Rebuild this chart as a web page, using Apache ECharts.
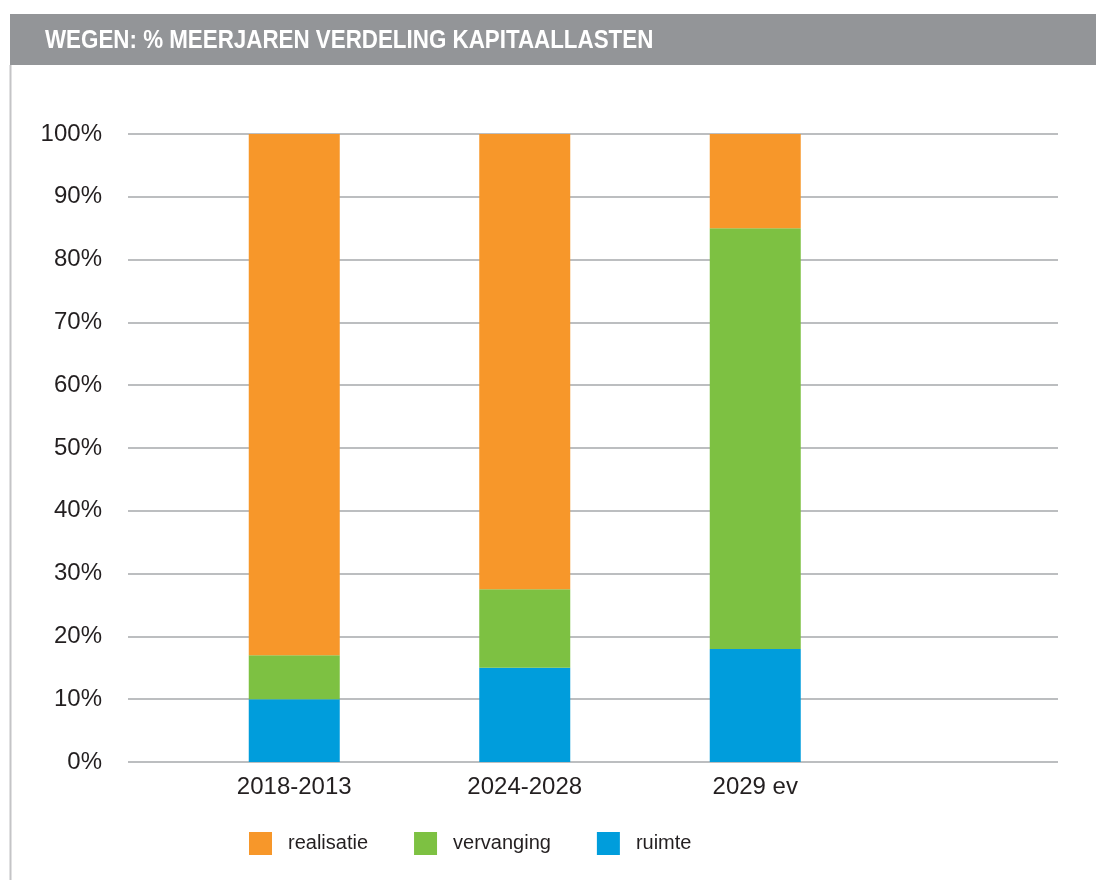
<!DOCTYPE html>
<html>
<head>
  <meta charset="UTF-8">
  <script src="https://cdn.jsdelivr.net/npm/echarts@6/dist/echarts.min.js"></script>
  <style>
    html, body { margin: 0; padding: 0; background: #fff; }
    #chart { width: 1096px; height: 880px; }
  </style>
</head>
<body>
  <div id="chart"></div>
  <script>
    // periods on the x axis
    var periods = ['2018-2013', '2024-2028', '2029 ev'];
    // percentages per period
    var ruimte = [10, 15, 18];
    var vervanging = [7, 12.5, 67];
    var realisatie = [83, 72.5, 15];
    var legendNames = ['realisatie', 'vervanging', 'ruimte'];

    var titleText = 'WEGEN: % MEERJAREN VERDELING KAPITAALLASTEN';
    var txt = '#231f20';
    var font = '"Liberation Sans", Arial, sans-serif';

    var chart = echarts.init(document.getElementById('chart'));

    function bar(name, data, color) {
      return {
        name: name,
        type: 'bar',
        stack: 'total',
        xAxisIndex: 1,
        yAxisIndex: 1,
        barWidth: 91,
        data: data,
        itemStyle: { color: color },
        emphasis: { disabled: true }
      };
    }

    chart.setOption({
      animation: false,
      backgroundColor: '#fff',
      textStyle: { fontFamily: font },
      graphic: [
        {
          type: 'rect',
          shape: { x: 10, y: 14, width: 1086, height: 51 },
          style: { fill: '#939598' }
        },
        {
          type: 'text',
          x: 45,
          y: 40.5,
          scaleX: 0.86,
          style: {
            text: titleText,
            fill: '#fff',
            font: 'bold 26px ' + font,
            verticalAlign: 'middle'
          }
        },
        {
          type: 'line',
          shape: { x1: 10.5, y1: 65, x2: 10.5, y2: 880 },
          style: { stroke: '#c4c4c6', lineWidth: 2 }
        }
      ],
      legend: {
        data: legendNames,
        left: 249,
        top: 832,
        padding: 0,
        itemWidth: 23,
        itemHeight: 23,
        itemGap: 46,
        icon: 'rect',
        selectedMode: false,
        textStyle: { fontSize: 20, color: txt, padding: [8, 0, 0, 11] }
      },
      grid: [
        { left: 128, right: 38, top: 134, bottom: 118 },
        { left: 179, width: 691.5, top: 134, bottom: 118 }
      ],
      xAxis: [
        { type: 'category', gridIndex: 0, data: periods, show: false },
        {
          type: 'category',
          gridIndex: 1,
          data: periods,
          axisLine: { show: false },
          axisTick: { show: false },
          axisLabel: { fontSize: 24, color: txt, margin: 13 }
        }
      ],
      yAxis: [
        {
          type: 'value',
          gridIndex: 0,
          min: 0,
          max: 100,
          interval: 10,
          axisLine: { show: false },
          axisTick: { show: false },
          axisLabel: { fontSize: 24, color: txt, margin: 26, formatter: '{value}%' },
          splitLine: { lineStyle: { color: '#bcbec0', width: 2 } }
        },
        {
          type: 'value',
          gridIndex: 1,
          min: 0,
          max: 100,
          interval: 10,
          show: false,
          splitLine: { show: false }
        }
      ],
      series: [
        bar('ruimte', ruimte, '#009ddc'),
        bar('vervanging', vervanging, '#7dc142'),
        bar('realisatie', realisatie, '#f7972a')
      ]
    });
  </script>
</body>
</html>
